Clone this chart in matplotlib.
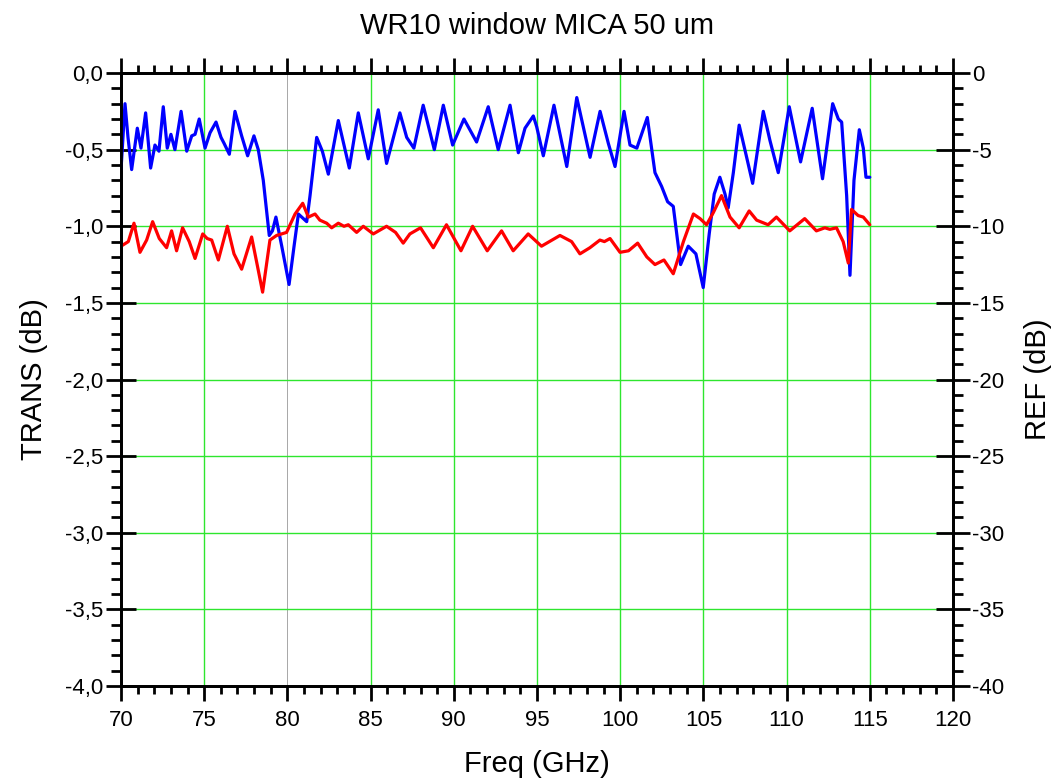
import matplotlib
matplotlib.use("Agg")
import matplotlib.pyplot as plt
from matplotlib.ticker import MultipleLocator, FuncFormatter

plt.rcParams["font.family"] = ["Liberation Sans", "DejaVu Sans"]

# ── data ─────────────────────────────────────────────────────────────────────
trans_freq = [70.0, 70.24, 70.42, 70.64, 70.98, 71.20, 71.48, 71.78, 72.04, 72.28,
              72.54, 72.78, 73.0, 73.24, 73.61, 73.95, 74.25, 74.45, 74.70, 75.05,
              75.35, 75.71, 76.01, 76.20, 76.51, 76.85, 77.25, 77.61, 77.99, 78.25,
              78.55, 78.91, 79.10, 79.31, 79.66, 80.10, 80.40, 80.66, 81.16, 81.36,
              81.76, 82.10, 82.46, 83.06, 83.72, 84.26, 84.86, 85.46, 85.96, 86.76,
              87.17, 87.60, 88.16, 88.83, 89.37, 89.93, 90.61, 91.37, 92.07, 92.67,
              93.38, 93.88, 94.28, 94.78, 94.98, 95.38, 96.02, 96.79, 97.39, 98.19,
              98.79, 99.29, 99.69, 100.23, 100.59, 101.0, 101.63, 102.09, 102.49, 102.85,
              103.19, 103.63, 104.09, 104.55, 104.99, 105.35, 105.65, 105.99, 106.3, 106.49,
              106.8, 107.15, 107.6, 107.96, 108.60, 109.0, 109.50, 110.16, 110.84, 111.54,
              112.16, 112.77, 113.11, 113.31, 113.61, 113.81, 114.05, 114.37, 114.61, 114.77,
              115.0]
trans_db = [-0.63, -0.20, -0.42, -0.63, -0.36, -0.49, -0.26, -0.62, -0.47, -0.51,
            -0.22, -0.49, -0.40, -0.50, -0.25, -0.51, -0.41, -0.40, -0.30, -0.49,
            -0.39, -0.32, -0.42, -0.46, -0.53, -0.25, -0.41, -0.54, -0.41, -0.50,
            -0.70, -1.06, -1.03, -0.94, -1.13, -1.38, -1.13, -0.92, -0.97, -0.80,
            -0.42, -0.51, -0.66, -0.31, -0.62, -0.26, -0.56, -0.24, -0.59, -0.26,
            -0.42, -0.49, -0.21, -0.50, -0.21, -0.47, -0.30, -0.45, -0.22, -0.50,
            -0.21, -0.52, -0.36, -0.28, -0.35, -0.54, -0.21, -0.61, -0.16, -0.55,
            -0.25, -0.46, -0.61, -0.25, -0.47, -0.49, -0.29, -0.65, -0.74, -0.84,
            -0.87, -1.25, -1.13, -1.18, -1.40, -1.05, -0.79, -0.68, -0.79, -0.88,
            -0.65, -0.34, -0.55, -0.72, -0.25, -0.44, -0.65, -0.22, -0.58, -0.23,
            -0.69, -0.20, -0.30, -0.32, -0.80, -1.32, -0.70, -0.37, -0.49, -0.68,
            -0.68]

ref_freq = [70.0, 70.44, 70.78, 71.14, 71.54, 71.90, 72.30, 72.74, 73.04, 73.34,
            73.70, 74.10, 74.45, 74.91, 75.18, 75.45, 75.85, 76.39, 76.79, 77.25,
            77.85, 78.20, 78.51, 78.95, 79.35, 79.95, 80.46, 80.92, 81.26, 81.66,
            81.95, 82.36, 82.66, 83.06, 83.40, 83.66, 84.16, 84.56, 85.16, 85.96,
            86.50, 86.96, 87.36, 88.0, 88.77, 89.56, 90.43, 91.13, 92.01, 92.87,
            93.57, 94.47, 95.27, 96.38, 97.08, 97.58, 98.18, 98.78, 99.05, 99.39,
            99.99, 100.50, 101.05, 101.60, 102.09, 102.63, 103.19, 103.80, 104.40, 104.80,
            105.19, 105.60, 106.09, 106.60, 107.15, 107.75, 108.20, 108.89, 109.39, 110.19,
            111.09, 111.79, 112.30, 112.60, 113.0, 113.40, 113.71, 113.90, 114.30, 114.61,
            115.0]
ref_db = [-11.3, -11.0, -9.8, -11.7, -10.9, -9.7, -10.8, -11.4, -10.3, -11.6,
          -10.1, -11.0, -12.1, -10.5, -10.8, -10.9, -12.2, -10.0, -11.8, -12.8,
          -10.7, -12.6, -14.3, -10.9, -10.6, -10.4, -9.2, -8.5, -9.4, -9.2,
          -9.6, -9.8, -10.1, -9.8, -10.0, -9.9, -10.4, -10.0, -10.5, -10.0,
          -10.4, -11.1, -10.5, -10.1, -11.4, -9.9, -11.6, -10.0, -11.6, -10.3,
          -11.6, -10.5, -11.3, -10.6, -11.0, -11.8, -11.4, -10.9, -11.0, -10.8,
          -11.7, -11.6, -11.1, -12.0, -12.5, -12.2, -13.1, -11.0, -9.2, -9.5,
          -9.9, -9.1, -8.0, -9.4, -10.1, -9.0, -9.6, -9.9, -9.4, -10.3,
          -9.5, -10.3, -10.1, -10.2, -10.1, -11.0, -12.4, -8.9, -9.3, -9.4,
          -9.9]

x_range = (70, 120)
trans_range = (-4.0, 0.0)
ref_range = (-40, 0)

GREEN = "#2ee62e"

# ── figure ───────────────────────────────────────────────────────────────────
fig = plt.figure(figsize=(10.55, 7.82), dpi=100)
ax = fig.add_axes([0.1147, 0.1228, 0.7886, 0.7838])
ax2 = ax.twinx()

ax.set_xlim(*x_range)
ax.set_ylim(*trans_range)
ax2.set_ylim(*ref_range)

# grid (the 80 GHz line is a thin grey one in the original)
for xv in range(75, 120, 5):
    col = "#999999" if xv == 80 else GREEN
    lw = 0.6 if xv == 80 else 1.0
    ax.axvline(xv, color=col, lw=lw, zorder=0)
for yv in [-0.5, -1.0, -1.5, -2.0, -2.5, -3.0, -3.5]:
    ax.axhline(yv, color=GREEN, lw=1.0, zorder=0)

ax.plot(trans_freq, trans_db, color="#0000ff", lw=2.3, zorder=3,
        solid_joinstyle="round", solid_capstyle="round")
ax2.plot(ref_freq, ref_db, color="#ff0000", lw=2.3, zorder=2,
         solid_joinstyle="round", solid_capstyle="round")

ax.xaxis.set_major_locator(MultipleLocator(5))
ax.xaxis.set_minor_locator(MultipleLocator(1))
ax.yaxis.set_major_locator(MultipleLocator(0.5))
ax.yaxis.set_minor_locator(MultipleLocator(0.1))
ax2.yaxis.set_major_locator(MultipleLocator(5))
ax2.yaxis.set_minor_locator(MultipleLocator(1))

ax.yaxis.set_major_formatter(FuncFormatter(lambda v, p: f"{v:.1f}".replace(".", ",")))
ax2.yaxis.set_major_formatter(FuncFormatter(lambda v, p: f"{v:.0f}"))

for a in (ax, ax2):
    for s in a.spines.values():
        s.set_linewidth(2.0)

ax.tick_params(axis="x", which="both", top=True, direction="out", width=2, labelsize=16)
ax.tick_params(axis="x", which="major", length=11, pad=6)
ax.tick_params(axis="x", which="minor", length=6)
ax.tick_params(axis="y", which="major", direction="inout", length=22, width=2,
               labelsize=16, pad=2)
ax.tick_params(axis="y", which="minor", direction="out", length=7, width=2)
ax2.tick_params(axis="y", which="major", direction="inout", length=24, width=2,
                labelsize=16, pad=2)
ax2.tick_params(axis="y", which="minor", direction="out", length=7, width=2)

ax.set_xlabel("Freq (GHz)", fontsize=21, labelpad=14)
ax.set_ylabel("TRANS (dB)", fontsize=21, labelpad=12)
ax2.set_ylabel("REF (dB)", fontsize=21, labelpad=14)
ax.set_title("WR10 window MICA 50 um", fontsize=21, pad=28)

fig.savefig("out.png", dpi=100)
